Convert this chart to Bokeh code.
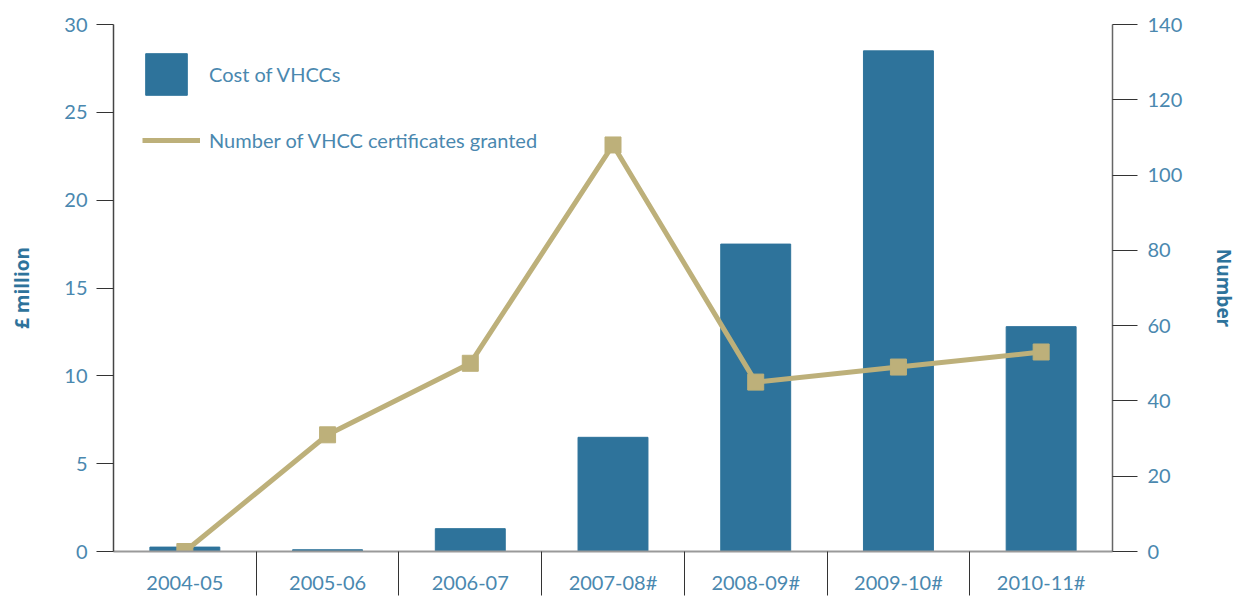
from bokeh.plotting import figure
from bokeh.models import (Range1d, LinearAxis, FixedTicker, Legend, LegendItem)
from bokeh.embed import file_html
from bokeh.resources import INLINE

# Data
years = ["2004-05", "2005-06", "2006-07", "2007-08#", "2008-09#", "2009-10#", "2010-11#"]
cost_million = [0.25, 0.1, 1.3, 6.5, 17.5, 28.5, 12.8]
certificates = [0, 31, 50, 108, 45, 49, 53]
left_ticks = [0, 5, 10, 15, 20, 25, 30]
right_ticks = [0, 20, 40, 60, 80, 100, 120, 140]

BAR = "#2E739B"
LINE = "#BDB07A"
TEXT = "#4A88AF"
FONT = "Lato"

xs = [i + 0.5 for i in range(len(years))]

p = figure(width=1247, height=596, output_backend="svg", toolbar_location=None,
           x_range=Range1d(0, len(years)), y_range=Range1d(0, 30),
           min_border_left=113, min_border_right=135, min_border_top=24,
           min_border_bottom=44)
p.extra_y_ranges = {"n": Range1d(0, 140)}
p.outline_line_color = None
p.grid.visible = False
p.background_fill_color = "white"
p.border_fill_color = "white"

bars = p.vbar(x=xs, top=cost_million, width=0.49, color=BAR)
line = p.line(x=xs, y=certificates, y_range_name="n", line_color=LINE, line_width=5)
p.scatter(x=xs, y=certificates, y_range_name="n", marker="square", size=16,
          fill_color=LINE, line_color=LINE)

# Bottom axis: labels at category centres, dividers between categories
xa = p.xaxis[0]
xa.ticker = FixedTicker(ticks=xs, minor_ticks=list(range(1, len(years))))
xa.major_label_overrides = {x: y for x, y in zip(xs, years)}
xa.major_tick_line_color = None
xa.major_tick_out = 0
xa.major_tick_in = 0
xa.minor_tick_out = 44
xa.minor_tick_in = 0
xa.minor_tick_line_color = "#333333"
xa.minor_tick_line_width = 1
xa.axis_line_color = "#9a9a9a"
xa.axis_line_width = 2
xa.major_label_standoff = -26
xa.major_label_text_font = FONT
xa.major_label_text_font_size = "20px"
xa.major_label_text_color = TEXT

# Left axis
ya = p.yaxis[0]
ya.ticker = FixedTicker(ticks=left_ticks)
ya.axis_label = "£ million"
ya.axis_label_text_font = "Open Sans"
ya.axis_label_text_font_style = "bold"
ya.axis_label_text_font_size = "19px"
ya.axis_label_text_color = BAR
ya.axis_label_standoff = 26
ya.major_tick_out = 17
ya.major_tick_in = 0
ya.minor_tick_line_color = None
ya.major_tick_line_color = "#333333"
ya.axis_line_color = "#444444"
ya.axis_line_width = 1.5
ya.major_label_standoff = 9
ya.major_label_text_font = FONT
ya.major_label_text_font_size = "20px"
ya.major_label_text_color = TEXT

# Right axis
ra = LinearAxis(y_range_name="n", ticker=FixedTicker(ticks=right_ticks))
ra.axis_label = "Number"
ra.axis_label_text_font = "Open Sans"
ra.axis_label_text_font_style = "bold"
ra.axis_label_text_font_size = "19px"
ra.axis_label_text_color = BAR
ra.axis_label_standoff = 26
ra.major_tick_out = 25
ra.major_tick_in = 0
ra.minor_tick_line_color = None
ra.major_tick_line_color = "#333333"
ra.axis_line_color = "#666666"
ra.axis_line_width = 1.5
ra.major_label_standoff = 10
ra.major_label_text_font = FONT
ra.major_label_text_font_size = "20px"
ra.major_label_text_color = TEXT
p.add_layout(ra, "right")


def make_legend(item, loc, gw, gh, standoff):
    lg = Legend(items=[item], location=loc, glyph_width=gw, glyph_height=gh,
                label_standoff=standoff, padding=0, margin=0, spacing=0,
                border_line_alpha=0, background_fill_alpha=0,
                label_text_font=FONT, label_text_font_size="20px",
                label_text_color=TEXT, label_height=gh)
    p.add_layout(lg)


make_legend(LegendItem(label="Cost of VHCCs", renderers=[bars]), (27, 451), 52, 52, 17)
make_legend(LegendItem(label="Number of VHCC certificates granted", renderers=[line]),
            (29, 399), 58, 20, 9)

open("out.html", "w").write(file_html(p, INLINE))
